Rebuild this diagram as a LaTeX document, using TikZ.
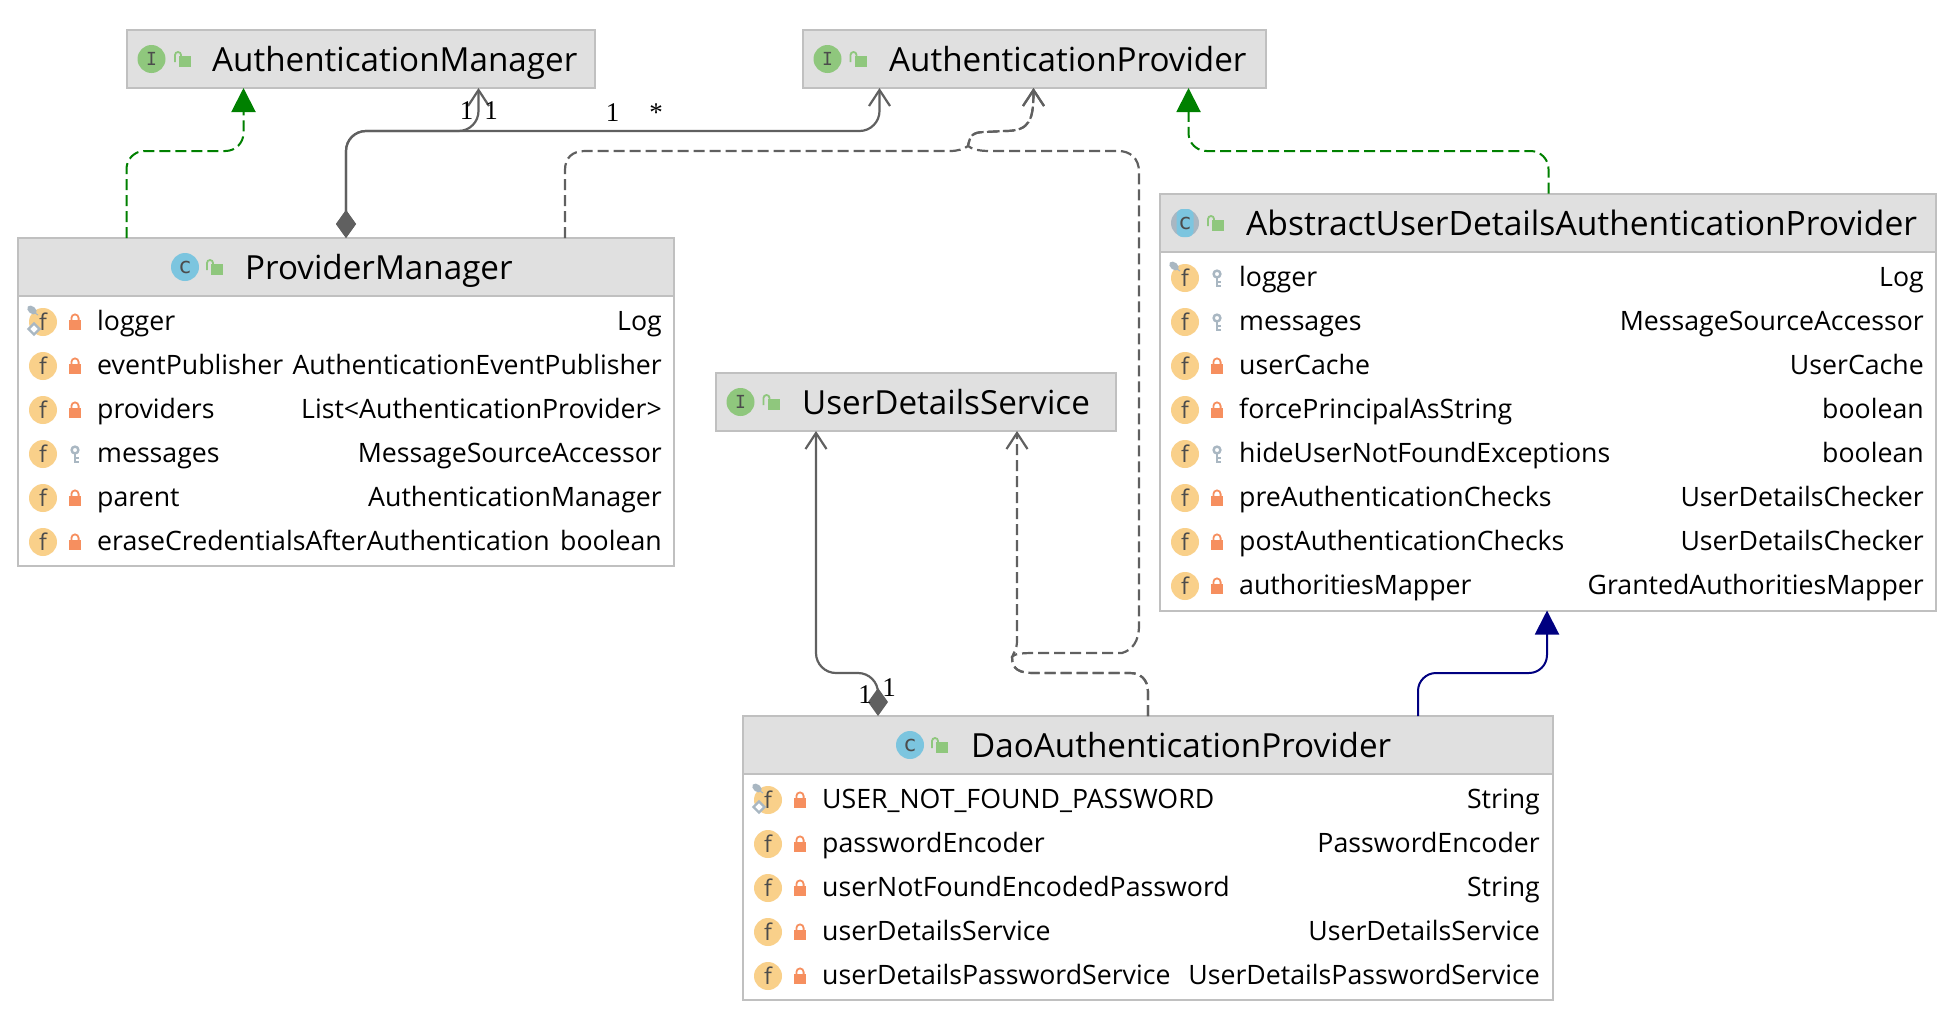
\documentclass[tikz,border=0pt]{standalone}
\usepackage{fontspec}
\usetikzlibrary{arrows.meta}
\setmainfont{Open Sans}
\newfontfamily\glyphfont{DejaVu Sans Mono}
\newfontfamily\multfont{Liberation Serif}

\definecolor{boxline}{HTML}{C0C0C0}
\definecolor{boxhead}{HTML}{E0E0E0}
\definecolor{connline}{HTML}{606060}
\definecolor{implgreen}{HTML}{008000}
\definecolor{icongreen}{HTML}{8FC77D}
\definecolor{iconblue}{HTML}{7CC5DF}
\definecolor{iconfield}{HTML}{F9D08A}
\definecolor{iconlock}{HTML}{F68F5F}
\definecolor{iconkey}{HTML}{A9B7C2}

\tikzset{
    classbox/.style={draw=boxline, fill=white, line width=2pt, anchor=north west, inner sep=0pt, outer sep=0pt},
    headbox/.style={classbox, fill=boxhead},
    titletext/.style={anchor=base west, inner sep=0pt, font=\fontsize{33.2}{33}\selectfont},
    rowtext/.style={anchor=base west, inner sep=0pt, font=\fontsize{26.7}{27}\selectfont},
    typetext/.style={rowtext, anchor=base east},
    multtext/.style={inner sep=0pt, font=\multfont\fontsize{27}{27}\selectfont},
    glyph/.style={circle, minimum size=28pt, inner sep=0pt, text=black!70, font=\glyphfont\fontsize{18}{18}\selectfont},
    fieldglyph/.style={glyph, fill=iconfield, font=\fontsize{23}{23}\selectfont},
    conn/.style={draw=connline, line width=2.2pt},
    dep/.style={conn, dash pattern=on 11pt off 5pt, -{Straight Barb[length=16pt,width=21pt]}},
    assoc/.style={conn, {Diamond[length=28pt,width=20pt]}-{Straight Barb[length=16pt,width=21pt]}, rounded corners=20pt},
    realize/.style={draw=implgreen, line width=2pt, dash pattern=on 11pt off 5pt, -{Triangle[length=24pt,width=24pt]}, rounded corners=18pt},
    extend/.style={draw=black!50!blue, line width=2pt, -{Triangle[length=24pt,width=24pt]}, rounded corners=18pt},
    pics/openlock/.style={code={
        \fill[icongreen] (-4,-5) rectangle (8,6);
        \draw[icongreen, line width=1.8pt] (-8,1) -- (-8,-6) arc[start angle=180, end angle=0, x radius=3pt, y radius=3pt] -- (-2,-5);
    }},
    pics/lockmark/.style={code={
        \fill[iconlock] (-6,-2) rectangle (6,8);
        \draw[iconlock, line width=1.8pt] (-3.6,-2) -- (-3.6,-4) arc[start angle=180, end angle=0, x radius=3.6pt, y radius=3.6pt] -- (3.6,-2);
    }},
    pics/keymark/.style={code={
        \draw[iconkey, line width=2.4pt] (0,-4) circle (3.4pt);
        \draw[iconkey, line width=2.6pt] (0,0) -- (0,9) (0,4) -- (4,4) (0,8) -- (4,8);
    }},
    pics/staticmark/.style={code={
        \fill[iconkey, rotate=-40] (0,0) ellipse (5.4pt and 3.6pt);
        \draw[iconkey, line width=1pt] (3,3) -- (6,5);
    }},
    pics/finalmark/.style={code={
        \draw[iconkey, fill=white, line width=2.4pt] (-5.5,0) -- (0,-5.5) -- (5.5,0) -- (0,5.5) -- cycle;
    }},
}

\newcommand{\fieldrows}[7]{%
    \foreach \fname/\ftype/\fmark [count=\i] in {#7} {
        \pgfmathsetmacro{\rowy}{#6+44*(\i-1)}
        \node[fieldglyph] (#1-icon\i) at (#2,\rowy) {f};
        \pic at (#3,\rowy) {\fmark};
        \node[rowtext] (#1-name\i) at (#4,\rowy+8.6) {\fname};
        \node[typetext] (#1-type\i) at (#5,\rowy+8.6) {\ftype};
    }%
}

\begin{document}
\begin{tikzpicture}[x=1pt, y=-1pt]
    \useasboundingbox (0,0) rectangle (1944,1020);

    \node[headbox, minimum width=468pt, minimum height=58pt] (amgr) at (127,30) {};
    \node[glyph, fill=icongreen] (amgr-icon) at (151.5,59) {I};
    \pic at (183,61) {openlock};
    \node[titletext] (amgr-title) at (212,71.5) {AuthenticationManager};

    \node[headbox, minimum width=463pt, minimum height=58pt] (aprov) at (803,30) {};
    \node[glyph, fill=icongreen] (aprov-icon) at (827.5,59) {I};
    \pic at (858.5,61) {openlock};
    \node[titletext] (aprov-title) at (889,71.5) {AuthenticationProvider};

    \node[headbox, minimum width=400pt, minimum height=58pt] (udsvc) at (716,373) {};
    \node[glyph, fill=icongreen] (udsvc-icon) at (740.5,402) {I};
    \pic at (771.5,404) {openlock};
    \node[titletext] (udsvc-title) at (802,414.5) {UserDetailsService};

    \node[classbox, minimum width=656pt, minimum height=328pt] (pmgr) at (18,238) {};
    \node[headbox, minimum width=656pt, minimum height=58pt] (pmgr-head) at (18,238) {};
    \node[glyph, fill=iconblue] (pmgr-icon) at (185,267) {\fontsize{22}{22}\selectfont c};
    \pic at (215,269) {openlock};
    \node[titletext] (pmgr-title) at (245,279.5) {ProviderManager};
    \fieldrows{pmgr}{43}{75}{97}{662}{322}{
        logger/Log/lockmark,
        eventPublisher/AuthenticationEventPublisher/lockmark,
        providers/List<AuthenticationProvider>/lockmark,
        messages/MessageSourceAccessor/keymark,
        parent/AuthenticationManager/lockmark,
        eraseCredentialsAfterAuthentication/boolean/lockmark}
    \pic at (32,310) {staticmark};
    \pic at (34,329) {finalmark};

    \node[classbox, minimum width=776pt, minimum height=417pt] (absp) at (1160,193.5) {};
    \node[headbox, minimum width=776pt, minimum height=58pt] (absp-head) at (1160,193.5) {};
    \fill[iconkey] (1185,223) circle (14pt);
    \node[glyph, fill=iconblue, rectangle, rounded corners=6pt, minimum width=17pt, minimum height=28pt] (absp-icon) at (1185,223) {\fontsize{22}{22}\selectfont c};
    \pic at (1216,225) {openlock};
    \node[titletext, font=\fontsize{33.6}{33}\selectfont] (absp-title) at (1246,235.5) {AbstractUserDetailsAuthenticationProvider};
    \fieldrows{absp}{1185}{1217}{1239}{1924}{278}{
        logger/Log/keymark,
        messages/MessageSourceAccessor/keymark,
        userCache/UserCache/lockmark,
        forcePrincipalAsString/boolean/lockmark,
        hideUserNotFoundExceptions/boolean/keymark,
        preAuthenticationChecks/UserDetailsChecker/lockmark,
        postAuthenticationChecks/UserDetailsChecker/lockmark,
        authoritiesMapper/GrantedAuthoritiesMapper/lockmark}
    \pic at (1174,266) {staticmark};

    \node[classbox, minimum width=810pt, minimum height=284pt] (daop) at (743,716) {};
    \node[headbox, minimum width=810pt, minimum height=58pt] (daop-head) at (743,716) {};
    \node[glyph, fill=iconblue] (daop-icon) at (910,745) {\fontsize{22}{22}\selectfont c};
    \pic at (940,747) {openlock};
    \node[titletext] (daop-title) at (971,757.5) {DaoAuthenticationProvider};
    \fieldrows{daop}{768}{800}{822}{1540}{800}{
        USER\_NOT\_FOUND\_PASSWORD/String/lockmark,
        passwordEncoder/PasswordEncoder/lockmark,
        userNotFoundEncodedPassword/String/lockmark,
        userDetailsService/UserDetailsService/lockmark,
        userDetailsPasswordService/UserDetailsPasswordService/lockmark}
    \pic at (757,788) {staticmark};
    \pic at (759,807) {finalmark};

    \draw[realize] (126.5,0 |- pmgr.north) -- (126.5,151) -- (243.5,151) -- (243.5,0 |- amgr.south);
    \draw[realize] (1548.5,0 |- absp.north) -- (1548.5,151) -- (1188.5,151) -- (1188.5,0 |- aprov.south);
    \draw[extend] (1418,0 |- daop.north) -- (1418,673) -- (1547,673) -- (1547,0 |- absp.south);

    \draw[assoc] (346,0 |- pmgr.north) -- (346,131) -- (478.5,131) -- (478.5,0 |- amgr.south);
    \draw[assoc] (346,0 |- pmgr.north) -- (346,131) -- (879.5,131) -- (879.5,0 |- aprov.south);
    \draw[assoc] (878,0 |- daop.north) -- (878,673) -- (816,673) -- (816,0 |- udsvc.south);

    \draw[dep] (565,0 |- pmgr.north) -- (565,170) .. controls (565,158) and (572,151) .. (585,151) -- (950,151)
        .. controls (958,151) and (964,149) .. (968,146) .. controls (970,136) and (972,132) .. (985,132)
        -- (1005,131) .. controls (1030,131) and (1033.5,120) .. (1033.5,0 |- aprov.south);
    \draw[dep] (1148,0 |- daop.north) -- (1148,692) .. controls (1148,679) and (1140,673) .. (1130,673)
        -- (1034,673) .. controls (1020,673) and (1012,670) .. (1012,657)
        .. controls (1014,652) and (1017,650) .. (1017,640) -- (1017,0 |- udsvc.south);
    \draw[dep] (1148,0 |- daop.north) -- (1148,692) .. controls (1148,679) and (1140,673) .. (1130,673)
        -- (1034,673) .. controls (1020,673) and (1012,670) .. (1012,657)
        .. controls (1014,654) and (1020,653) .. (1034,653) -- (1122,653)
        .. controls (1132,650) and (1139,642) .. (1139,625) -- (1139,172)
        .. controls (1139,158) and (1130,151) .. (1118,151) -- (990,151)
        .. controls (978,151) and (972,149) .. (968,146) .. controls (970,136) and (972,132) .. (985,132)
        -- (1005,131) .. controls (1030,131) and (1033.5,120) .. (1033.5,0 |- aprov.south);

    \node[multtext] (amgr-m1) at (466.5,111) {1};
    \node[multtext] (amgr-m2) at (491,111) {1};
    \node[multtext] (aprov-m1) at (612.5,113) {1};
    \node[multtext] (aprov-m2) at (656,113) {*};
    \node[multtext] (daop-m1) at (865,695) {1};
    \node[multtext] (daop-m2) at (889,688) {1};
\end{tikzpicture}
\end{document}
